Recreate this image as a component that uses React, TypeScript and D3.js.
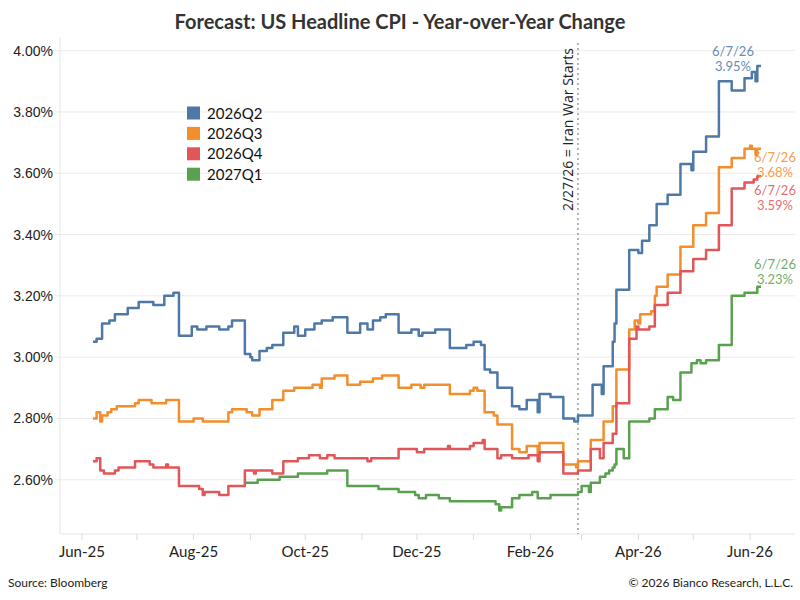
import * as d3 from 'd3';

const seriesNames = ['2026Q2', '2026Q3', '2026Q4', '2027Q1'];
const seriesColors = ['#4e79a7', '#f28e2b', '#e15759', '#59a14f'];

// change points of the daily Bloomberg forecast, drawn as steps
const q2Points: [string, number][] = [
  ['2025-06-07', 3.05], ['2025-06-09', 3.06], ['2025-06-12', 3.11], ['2025-06-16', 3.12],
  ['2025-06-19', 3.14], ['2025-06-26', 3.16], ['2025-07-02', 3.18], ['2025-07-10', 3.17],
  ['2025-07-16', 3.2], ['2025-07-21', 3.21], ['2025-07-24', 3.07], ['2025-07-31', 3.1],
  ['2025-08-03', 3.09], ['2025-08-08', 3.1], ['2025-08-15', 3.09], ['2025-08-20', 3.1],
  ['2025-08-22', 3.12], ['2025-08-29', 3.01], ['2025-09-01', 3.0], ['2025-09-02', 2.99],
  ['2025-09-06', 3.02], ['2025-09-10', 3.03], ['2025-09-13', 3.04], ['2025-09-19', 3.08],
  ['2025-09-25', 3.1], ['2025-09-27', 3.07], ['2025-10-01', 3.09], ['2025-10-06', 3.11],
  ['2025-10-10', 3.12], ['2025-10-16', 3.13], ['2025-10-24', 3.08], ['2025-10-31', 3.11],
  ['2025-11-04', 3.09], ['2025-11-07', 3.12], ['2025-11-11', 3.13], ['2025-11-14', 3.14],
  ['2025-11-21', 3.08], ['2025-11-28', 3.09], ['2025-12-02', 3.07], ['2025-12-04', 3.08],
  ['2025-12-11', 3.09], ['2025-12-19', 3.03], ['2025-12-28', 3.04], ['2026-01-01', 3.05],
  ['2026-01-05', 3.04], ['2026-01-07', 2.96], ['2026-01-10', 2.95], ['2026-01-14', 2.9],
  ['2026-01-22', 2.84], ['2026-01-26', 2.83], ['2026-01-30', 2.86], ['2026-02-05', 2.82],
  ['2026-02-06', 2.88], ['2026-02-12', 2.87], ['2026-02-19', 2.8], ['2026-02-25', 2.79],
  ['2026-02-27', 2.81], ['2026-03-07', 2.91], ['2026-03-12', 2.88], ['2026-03-13', 2.97],
  ['2026-03-18', 3.05], ['2026-03-19', 3.11], ['2026-03-20', 3.22], ['2026-03-27', 3.35],
  ['2026-04-01', 3.34], ['2026-04-03', 3.38], ['2026-04-07', 3.43], ['2026-04-11', 3.5],
  ['2026-04-17', 3.53], ['2026-04-24', 3.63], ['2026-04-30', 3.61], ['2026-05-01', 3.67],
  ['2026-05-08', 3.72], ['2026-05-15', 3.9], ['2026-05-22', 3.87], ['2026-05-29', 3.91],
  ['2026-06-02', 3.93], ['2026-06-04', 3.9], ['2026-06-05', 3.95], ['2026-06-07', 3.95],
];

const q3Points: [string, number][] = [
  ['2025-06-07', 2.8], ['2025-06-09', 2.82], ['2025-06-11', 2.79], ['2025-06-12', 2.81],
  ['2025-06-15', 2.82], ['2025-06-17', 2.83], ['2025-06-20', 2.84], ['2025-06-30', 2.85],
  ['2025-07-02', 2.86], ['2025-07-09', 2.85], ['2025-07-17', 2.86], ['2025-07-24', 2.79],
  ['2025-08-01', 2.8], ['2025-08-06', 2.79], ['2025-08-20', 2.82], ['2025-08-22', 2.83],
  ['2025-08-30', 2.82], ['2025-09-02', 2.81], ['2025-09-06', 2.83], ['2025-09-13', 2.86],
  ['2025-09-19', 2.89], ['2025-09-25', 2.9], ['2025-10-02', 2.9], ['2025-10-05', 2.91],
  ['2025-10-09', 2.9], ['2025-10-10', 2.93], ['2025-10-17', 2.94], ['2025-10-24', 2.91],
  ['2025-10-31', 2.92], ['2025-11-07', 2.93], ['2025-11-12', 2.94], ['2025-11-21', 2.9],
  ['2025-11-28', 2.91], ['2025-12-03', 2.9], ['2025-12-05', 2.91], ['2025-12-19', 2.88],
  ['2025-12-30', 2.89], ['2026-01-01', 2.9], ['2026-01-03', 2.89], ['2026-01-07', 2.82],
  ['2026-01-12', 2.81], ['2026-01-14', 2.78], ['2026-01-22', 2.7], ['2026-01-26', 2.69],
  ['2026-01-30', 2.71], ['2026-02-05', 2.68], ['2026-02-06', 2.72], ['2026-02-19', 2.65],
  ['2026-02-26', 2.64], ['2026-02-27', 2.66], ['2026-03-06', 2.73], ['2026-03-13', 2.79],
  ['2026-03-18', 2.84], ['2026-03-20', 2.96], ['2026-03-27', 3.09], ['2026-03-30', 3.12],
  ['2026-04-01', 3.11], ['2026-04-02', 3.14], ['2026-04-08', 3.15], ['2026-04-10', 3.2],
  ['2026-04-11', 3.23], ['2026-04-17', 3.27], ['2026-04-24', 3.36], ['2026-05-01', 3.43],
  ['2026-05-08', 3.47], ['2026-05-15', 3.62], ['2026-05-22', 3.65], ['2026-05-29', 3.68],
  ['2026-06-01', 3.69], ['2026-06-02', 3.68], ['2026-06-04', 3.66], ['2026-06-05', 3.68],
  ['2026-06-07', 3.68],
];

const q4Points: [string, number][] = [
  ['2025-06-07', 2.66], ['2025-06-09', 2.67], ['2025-06-11', 2.63], ['2025-06-13', 2.62],
  ['2025-06-19', 2.63], ['2025-06-21', 2.64], ['2025-06-30', 2.66], ['2025-07-08', 2.65],
  ['2025-07-10', 2.64], ['2025-07-17', 2.65], ['2025-07-18', 2.64], ['2025-07-24', 2.58],
  ['2025-08-04', 2.57], ['2025-08-06', 2.55], ['2025-08-07', 2.56], ['2025-08-15', 2.55],
  ['2025-08-20', 2.58], ['2025-08-29', 2.63], ['2025-09-03', 2.62], ['2025-09-04', 2.63],
  ['2025-09-13', 2.62], ['2025-09-19', 2.66], ['2025-09-27', 2.67], ['2025-10-03', 2.68],
  ['2025-10-09', 2.67], ['2025-10-13', 2.68], ['2025-10-17', 2.67], ['2025-11-04', 2.66],
  ['2025-11-06', 2.67], ['2025-11-21', 2.7], ['2025-12-01', 2.69], ['2025-12-05', 2.7],
  ['2025-12-18', 2.71], ['2025-12-19', 2.7], ['2025-12-30', 2.71], ['2026-01-01', 2.72],
  ['2026-01-06', 2.73], ['2026-01-07', 2.7], ['2026-01-14', 2.67], ['2026-01-16', 2.68],
  ['2026-01-22', 2.67], ['2026-01-31', 2.68], ['2026-02-05', 2.66], ['2026-02-06', 2.69],
  ['2026-02-19', 2.62], ['2026-02-27', 2.63], ['2026-03-06', 2.7], ['2026-03-11', 2.67],
  ['2026-03-13', 2.72], ['2026-03-18', 2.75], ['2026-03-20', 2.85], ['2026-03-27', 3.06],
  ['2026-03-31', 3.1], ['2026-04-01', 3.09], ['2026-04-07', 3.1], ['2026-04-10', 3.17],
  ['2026-04-17', 3.21], ['2026-04-24', 3.28], ['2026-05-01', 3.32], ['2026-05-08', 3.35],
  ['2026-05-15', 3.43], ['2026-05-22', 3.55], ['2026-05-29', 3.57], ['2026-06-03', 3.58],
  ['2026-06-05', 3.59], ['2026-06-07', 3.59],
];

const q1Points: [string, number][] = [
  ['2025-08-29', 2.59], ['2025-09-05', 2.6], ['2025-09-17', 2.61], ['2025-09-27', 2.62],
  ['2025-10-13', 2.63], ['2025-10-24', 2.58], ['2025-11-10', 2.57], ['2025-11-21', 2.56],
  ['2025-11-30', 2.55], ['2025-12-02', 2.54], ['2025-12-06', 2.55], ['2025-12-13', 2.54],
  ['2025-12-19', 2.53], ['2026-01-13', 2.52], ['2026-01-15', 2.5], ['2026-01-16', 2.51],
  ['2026-01-22', 2.54], ['2026-01-26', 2.55], ['2026-02-02', 2.56], ['2026-02-05', 2.54],
  ['2026-02-12', 2.55], ['2026-02-27', 2.56], ['2026-03-01', 2.58], ['2026-03-05', 2.56],
  ['2026-03-06', 2.59], ['2026-03-11', 2.61], ['2026-03-14', 2.62], ['2026-03-16', 2.63],
  ['2026-03-18', 2.64], ['2026-03-19', 2.65], ['2026-03-20', 2.7], ['2026-03-24', 2.67],
  ['2026-03-27', 2.79], ['2026-04-07', 2.8], ['2026-04-10', 2.83], ['2026-04-17', 2.87],
  ['2026-04-20', 2.86], ['2026-04-24', 2.95], ['2026-04-30', 2.98], ['2026-05-03', 2.99],
  ['2026-05-05', 2.98], ['2026-05-08', 2.99], ['2026-05-15', 3.04], ['2026-05-22', 3.2],
  ['2026-05-29', 3.21], ['2026-06-05', 3.23], ['2026-06-07', 3.23],
];

const allPoints = [q2Points, q3Points, q4Points, q1Points];

const yTicks = [2.6, 2.8, 3.0, 3.2, 3.4, 3.6, 3.8, 4.0];
const xTickDates = ['2025-06-01', '2025-08-01', '2025-10-01', '2025-12-01', '2026-02-01', '2026-04-01', '2026-06-01'];
const xTickLabels = ['Jun-25', 'Aug-25', 'Oct-25', 'Dec-25', 'Feb-26', 'Apr-26', 'Jun-26'];
const endDateLabel = '6/7/26';
const endValueLabels = ['3.95%', '3.68%', '3.59%', '3.23%'];
const warDate = '2026-02-27';
const warLabel = '2/27/26 = Iran War Starts';

// where each end label sits relative to the last point: [dx, dy first line, dy second line]
const endLabelOffsets = [
  [-28, -10, 5],
  [14, 13, 28],
  [14, 19, 34],
  [14, -18, -3],
];

const W = 800;
const H = 600;
const left = 60;
const right = 795;
const top = 43;
const bottom = 534;

const parse = d3.timeParse('%Y-%m-%d');

export default function App() {
  const x = d3.scaleTime()
    .domain([new Date(2025, 4, 20), new Date(2026, 5, 25, 14)])
    .range([left, right]);
  const y = d3.scaleLinear().domain([2.423, 4.025]).range([bottom, top]);

  const line = d3.line<[string, number]>()
    .x(d => x(parse(d[0]) as Date))
    .y(d => y(d[1]))
    .curve(d3.curveStepAfter);

  const months = d3.timeMonth.range(new Date(2025, 5, 1), new Date(2026, 5, 2));
  const warX = x(parse(warDate) as Date);

  return (
    <div style={{ position: 'fixed', left: 0, top: 0 }}>
      <svg width={W} height={H} style={{ display: 'block', background: '#fff' }}>
        <text x={400} y={29} textAnchor="middle" fontFamily="Lato" fontWeight="bold" fontSize={20} fill="#333">
          Forecast: US Headline CPI - Year-over-Year Change
        </text>

        {yTicks.map(t => (
          <g key={t}>
            <line x1={left - 5} x2={right} y1={y(t)} y2={y(t)} stroke="#ebebeb" strokeWidth={1} />
            <text x={53} y={y(t) + 5} textAnchor="end" fontFamily="Liberation Sans" fontSize={14} fill="#222">
              {d3.format('.2f')(t)}%
            </text>
          </g>
        ))}
        <line x1={left} x2={left} y1={top - 5} y2={bottom} stroke="#e6e6e6" />
        <line x1={left} x2={right} y1={bottom} y2={bottom} stroke="#e6e6e6" />
        {months.map(m => (
          <line key={+m} x1={x(m)} x2={x(m)} y1={bottom} y2={bottom + 6} stroke="#dcdcdc" />
        ))}
        {xTickDates.map((d, i) => (
          <text key={d} x={x(parse(d) as Date)} y={557} textAnchor="middle" fontFamily="Lato" fontSize={15} fill="#222">
            {xTickLabels[i]}
          </text>
        ))}

        <line x1={warX} x2={warX} y1={top} y2={bottom} stroke="#9a9a9a" strokeWidth={1.5} strokeDasharray="2,3" />
        <text transform={`translate(${warX - 5},48) rotate(-90)`} textAnchor="end" fontFamily="Open Sans" fontSize={14} fill="#222">
          {warLabel}
        </text>

        {allPoints.map((pts, i) => (
          <path key={seriesNames[i]} d={line(pts) || ''} fill="none" stroke={seriesColors[i]} strokeWidth={2.5} strokeLinejoin="round" />
        ))}

        {allPoints.map((pts, i) => {
          const last = pts[pts.length - 1];
          const lx = x(parse(last[0]) as Date) + endLabelOffsets[i][0];
          const ly = y(last[1]);
          return (
            <g key={'lab' + i} fontFamily="Lato" fontSize={13} fill={seriesColors[i]} opacity={0.85} textAnchor="middle">
              <text x={lx} y={ly + endLabelOffsets[i][1]}>{endDateLabel}</text>
              <text x={lx} y={ly + endLabelOffsets[i][2]}>{endValueLabels[i]}</text>
            </g>
          );
        })}

        {seriesNames.map((n, i) => (
          <g key={n} transform={`translate(187,${113 + i * 20.4})`}>
            <rect x={0} y={-6.5} width={13} height={13} fill={seriesColors[i]} />
            <text x={20} y={5.5} fontFamily="Lato" fontSize={15} fill="#111">{n}</text>
          </g>
        ))}

        <text x={8} y={587} fontFamily="Lato" fontSize={12} fill="#222">Source: Bloomberg</text>
        <text x={793} y={587} textAnchor="end" fontFamily="Lato" fontSize={12} fill="#222">© 2026 Bianco Research, L.L.C.</text>
      </svg>
    </div>
  );
}
